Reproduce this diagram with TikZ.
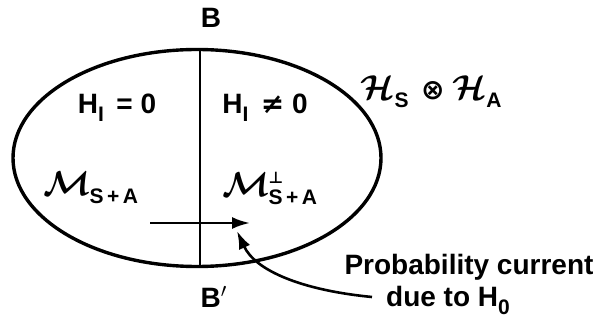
\documentclass[tikz,border=0pt]{standalone}
\usepackage{fontspec}
\usepackage{amsmath,bm}
\setmainfont{Liberation Sans}
\newfontfamily\symfont{DejaVu Sans}
\usetikzlibrary{arrows.meta,shapes.geometric}
\tikzset{
  lbl/.style={font=\bfseries\fontsize{14}{16}\selectfont, inner sep=0pt},
  thickline/.style={line width=1.7pt},
  thinline/.style={line width=1.2pt},
  arr/.style={line width=1.3pt, -{Latex[length=9pt,width=6pt]}}
}
\newcommand{\scrH}{\scalebox{1.2}{\ensuremath{\bm{\mathcal{H}}}}}
\newcommand{\scrM}{\scalebox{1.2}{\ensuremath{\bm{\mathcal{M}}}}}
\newcommand{\lowsub}[1]{\raisebox{-4pt}{\fontsize{10.5}{11}\selectfont #1}}
\begin{document}
\begin{tikzpicture}[x=0.5pt,y=-0.5pt]
\useasboundingbox (0,0) rectangle (594,331);
% ellipse
\node[draw, thickline, ellipse, minimum width=184pt, minimum height=108.5pt, inner sep=0pt] (E) at (197,158) {};
\coordinate (top) at (200,50);
\coordinate (bot) at (200,266.5);
\draw[thinline] (top) -- (bot);
% labels
\node[lbl] (B) at (211,18) {B};
\node[lbl] (Bp) at (214,297) {B$'$};
\node[lbl] (h0) at (117,108) {H\lowsub{I}\, = 0};
\node[lbl] (h1) at (265,108) {H\lowsub{I}\, {\symfont\bfseries ≠} 0};
\node[lbl] (hs) at (431,92) {\scrH\lowsub{S}\, {\symfont\bfseries ⊗} \scrH\lowsub{A}};
\node[lbl] (m) at (91,188) {\scrM\kern-1pt\lowsub{S\,+\,A}};
\node[lbl] (mp) at (270,188) {\scrM\kern-1pt\lowsub{\rlap{\raisebox{10.5pt}{\fontsize{8}{8}\selectfont\symfont\bfseries ⊥}}S\,+\,A}};
\node[lbl] (pc) at (469,267) {Probability current};
\node[lbl] (due) at (448,300) {due to H\lowsub{0}};
% arrows
\coordinate (a1) at (150,223);
\coordinate (a2) at (250,223);
\draw[arr] (a1) -- (a2);
\coordinate (c1) at (372,297);
\coordinate (c2) at (237,231);
\draw[arr] (c1) .. controls (300,290) and (255,270) .. (c2);
\end{tikzpicture}
\end{document}
